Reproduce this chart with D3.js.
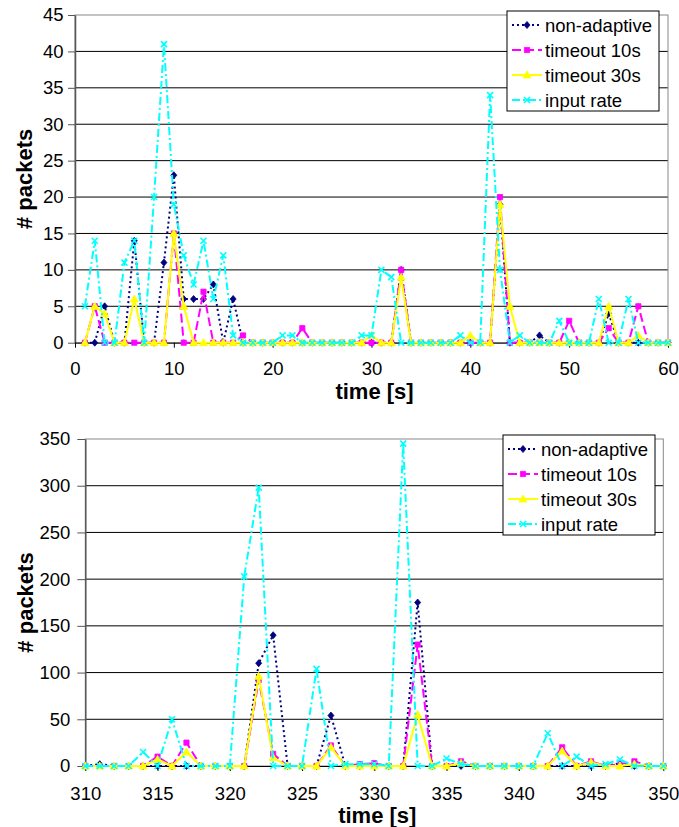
<!DOCTYPE html>
<html>
<head>
<meta charset="utf-8">
<script src="https://cdn.jsdelivr.net/npm/d3@7"></script>
<style>
    body { margin: 0; background: #fff; }
    text { font-family: "Liberation Sans", Arial, sans-serif; }
</style>
</head>
<body>
<script>
const seriesNames = ["non-adaptive", "timeout 10s", "timeout 30s", "input rate"]

// top chart, t = 1..60 s
const timeA = [1, 2, 3, 4, 5, 6, 7, 8, 9, 10, 11, 12, 13, 14, 15, 16, 17, 18, 19, 20,
    21, 22, 23, 24, 25, 26, 27, 28, 29, 30, 31, 32, 33, 34, 35, 36, 37, 38, 39, 40,
    41, 42, 43, 44, 45, 46, 47, 48, 49, 50, 51, 52, 53, 54, 55, 56, 57, 58, 59, 60]
const nonAdaptiveA = [0, 0, 5, 0, 0, 14, 0, 0, 11, 23, 6, 6, 6, 8, 0, 6, 0, 0, 0, 0,
    0, 0, 0, 0, 0, 0, 0, 0, 0, 0, 0, 0, 10, 0, 0, 0, 0, 0, 0, 0,
    0, 0, 19, 0, 0, 0, 1, 0, 0, 0, 0, 0, 0, 4, 0, 0, 0, 0, 0, 0]
const timeout10A = [0, 5, 0, 0, 0, 0, 0, 0, 0, 15, 0, 0, 7, 0, 0, 0, 1, 0, 0, 0,
    0, 0, 2, 0, 0, 0, 0, 0, 0, 0, 0, 0, 10, 0, 0, 0, 0, 0, 0, 0,
    0, 0, 20, 0, 0, 0, 0, 0, 0, 3, 0, 0, 0, 2, 0, 0, 5, 0, 0, 0]
const timeout30A = [0, 5, 4, 0, 0, 6, 0, 0, 0, 15, 5, 0, 0, 0, 0, 0, 0, 0, 0, 0,
    0, 0, 0, 0, 0, 0, 0, 0, 0, 1, 0, 0, 9, 0, 0, 0, 0, 0, 0, 1,
    0, 0, 19, 5, 0, 0, 0, 0, 0, 0, 0, 0, 0, 5, 0, 0, 1, 0, 0, 0]
const inputA = [5, 14, 0, 0, 11, 14, 0, 20, 41, 19, 12, 8, 14, 6, 12, 1, 0, 0, 0, 0,
    1, 1, 0, 0, 0, 0, 0, 0, 1, 1, 10, 9, 0, 0, 0, 0, 0, 0, 1, 0,
    0, 34, 10, 0, 1, 0, 0, 0, 3, 0, 0, 0, 6, 0, 0, 6, 0, 0, 0, 0]
const xTicksA = [0, 10, 20, 30, 40, 50, 60]
const yTicksA = [0, 5, 10, 15, 20, 25, 30, 35, 40, 45]

// bottom chart, t = 310..350 s
const timeB = [310, 311, 312, 313, 314, 315, 316, 317, 318, 319, 320, 321, 322, 323, 324,
    325, 326, 327, 328, 329, 330, 331, 332, 333, 334, 335, 336, 337, 338, 339, 340,
    341, 342, 343, 344, 345, 346, 347, 348, 349, 350]
const nonAdaptiveB = [0, 2, 0, 0, 0, 0, 0, 0, 0, 0, 0, 0, 110, 140, 0,
    0, 0, 54, 0, 0, 0, 0, 0, 175, 0, 0, 0, 0, 0, 0, 0,
    0, 0, 0, 0, 0, 0, 3, 0, 0, 0]
const timeout10B = [0, 0, 0, 0, 0, 10, 0, 25, 0, 0, 0, 0, 92, 13, 0,
    0, 0, 22, 0, 2, 3, 0, 0, 130, 0, 0, 5, 0, 0, 0, 0,
    0, 0, 20, 0, 5, 0, 2, 5, 0, 0]
const timeout30B = [0, 0, 0, 0, 0, 7, 0, 15, 0, 0, 0, 0, 96, 9, 0,
    0, 0, 20, 0, 0, 0, 0, 0, 55, 0, 0, 3, 0, 0, 0, 0,
    0, 0, 16, 0, 4, 0, 0, 2, 0, 0]
const inputB = [0, 0, 0, 0, 15, 0, 50, 0, 0, 0, 0, 203, 298, 0, 0,
    0, 104, 0, 2, 2, 2, 0, 345, 0, 0, 8, 2, 0, 0, 0, 0,
    0, 35, 0, 10, 0, 2, 7, 0, 0, 0]
const xTicksB = [310, 315, 320, 325, 330, 335, 340, 345, 350]
const yTicksB = [0, 50, 100, 150, 200, 250, 300, 350]

const styles = [
    { color: "#000080", dash: "2,3", marker: "M0,-3.5L3,0L0,3.5L-3,0Z", fill: true },
    { color: "#ff00ff", dash: "9,4", marker: "M-2.6,-2.6h5.2v5.2h-5.2Z", fill: true },
    { color: "#ffff00", dash: null, marker: "M0,-4L4,3L-4,3Z", fill: true },
    { color: "#00ffff", dash: "8,3,2,3", marker: "M-3,-3L3,3M-3,3L3,-3", fill: false }
]

const fontSize = 18.5

const svg = d3.select("body").append("svg")
    .attr("width", 679)
    .attr("height", 827)

function drawChart(opt) {
    const g = svg.append("g")
    const x = d3.scaleLinear().domain(opt.xDomain).range([opt.left, opt.right])
    const y = d3.scaleLinear().domain([0, opt.yMax]).range([opt.bottom, opt.top])

    // grid
    g.append("g").selectAll("line")
        .data(opt.yTicks.filter(d => d > 0 && d < opt.yMax))
        .join("line")
        .attr("x1", opt.left).attr("x2", opt.right)
        .attr("y1", d => y(d)).attr("y2", d => y(d))
        .attr("stroke", "#000").attr("stroke-width", 1)

    g.append("rect")
        .attr("x", opt.left).attr("y", opt.top)
        .attr("width", opt.right - opt.left).attr("height", opt.bottom - opt.top)
        .attr("fill", "none").attr("stroke", "#888")

    let ya = g.append("g")
        .attr("transform", "translate(" + opt.left + ",0)")
        .call(d3.axisLeft(y).tickValues(opt.yTicks).tickSize(opt.yTickSize).tickPadding(opt.yPad).tickSizeOuter(0))
    ya.select(".domain").attr("stroke", "#555").attr("stroke-width", 1.5)
    ya.selectAll(".tick line").attr("stroke", "#555")
    ya.selectAll("text").attr("font-size", fontSize).attr("font-family", null).attr("fill", "#000")

    let xa = g.append("g")
        .attr("transform", "translate(0," + opt.bottom + ")")
        .call(d3.axisBottom(x).tickValues(opt.xTicks).tickSize(5).tickPadding(opt.xPad).tickSizeOuter(0))
    xa.select(".domain").attr("stroke", "#000")
    xa.selectAll(".tick line").attr("stroke", "#000")
    xa.selectAll("text").attr("font-size", fontSize).attr("font-family", null).attr("fill", "#000")

    // titles
    g.append("text")
        .attr("transform", "translate(" + opt.yTitleX + "," + (opt.top + opt.bottom) / 2 + ")rotate(-90)")
        .attr("text-anchor", "middle")
        .attr("font-size", 22).attr("font-weight", "bold")
        .text("# packets")
    g.append("text")
        .attr("x", (opt.left + opt.right) / 2 + 3)
        .attr("y", opt.xTitleY)
        .attr("text-anchor", "middle")
        .attr("font-size", 22).attr("font-weight", "bold")
        .text("time [s]")

    // series
    opt.values.forEach((vals, i) => {
        let s = styles[i]
        let line = d3.line()
            .x((d, j) => x(opt.times[j]))
            .y(d => y(d))
        g.append("path")
            .datum(vals)
            .attr("d", line)
            .attr("fill", "none")
            .attr("stroke", s.color)
            .attr("stroke-width", 2)
            .attr("stroke-dasharray", s.dash)
        g.append("g").selectAll("path")
            .data(vals)
            .join("path")
            .attr("transform", (d, j) => "translate(" + x(opt.times[j]) + "," + y(d) + ")")
            .attr("d", s.marker)
            .attr("fill", s.fill ? s.color : "none")
            .attr("stroke", s.color)
            .attr("stroke-width", s.fill ? 0.8 : 1.6)
    })

    // legend
    let lg = opt.legend
    g.append("rect")
        .attr("x", lg.x).attr("y", lg.y)
        .attr("width", lg.w).attr("height", lg.h)
        .attr("fill", "#fff").attr("stroke", "#000").attr("stroke-width", 1)
    seriesNames.forEach((name, i) => {
        let s = styles[i]
        let cy = lg.y + 14 + i * 25
        g.append("line")
            .attr("x1", lg.x + 5).attr("x2", lg.x + 35)
            .attr("y1", cy).attr("y2", cy)
            .attr("stroke", s.color).attr("stroke-width", 2)
            .attr("stroke-dasharray", s.dash)
        g.append("path")
            .attr("transform", "translate(" + (lg.x + 20) + "," + cy + ")")
            .attr("d", s.marker)
            .attr("fill", s.fill ? s.color : "none")
            .attr("stroke", s.color)
            .attr("stroke-width", s.fill ? 0.8 : 1.6)
        g.append("text")
            .attr("x", lg.x + 38)
            .attr("y", cy + 6.5)
            .attr("font-size", fontSize)
            .text(name)
    })
}

drawChart({
    left: 75, right: 668, top: 15, bottom: 342.7,
    xDomain: [0, 60], yMax: 45,
    xTicks: xTicksA, yTicks: yTicksA,
    yTickSize: 7, yPad: 4.5, xPad: 14.5,
    yTitleX: 32, xTitleY: 399,
    times: timeA,
    values: [nonAdaptiveA, timeout10A, timeout30A, inputA],
    legend: { x: 507, y: 11, w: 152, h: 100 }
})

drawChart({
    left: 85.3, right: 663.3, top: 439, bottom: 766,
    xDomain: [310, 350], yMax: 350,
    xTicks: xTicksB, yTicks: yTicksB,
    yTickSize: 8, yPad: 7, xPad: 16,
    yTitleX: 33, xTitleY: 823,
    times: timeB,
    values: [nonAdaptiveB, timeout10B, timeout30B, inputB],
    legend: { x: 503, y: 435, w: 152, h: 100 }
})
</script>
</body>
</html>
